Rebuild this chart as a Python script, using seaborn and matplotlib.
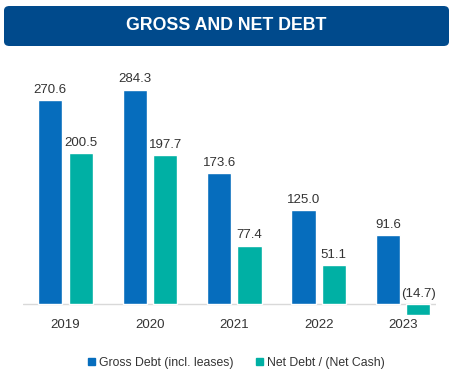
import numpy as np
import matplotlib
matplotlib.use("Agg")
import matplotlib.pyplot as plt
from matplotlib.patches import FancyBboxPatch
import seaborn as sns
import pandas as pd

years = ["2019", "2020", "2021", "2022", "2023"]
gross_debt = [270.6, 284.3, 173.6, 125.0, 91.6]
net_debt = [200.5, 197.7, 77.4, 51.1, -14.7]
series_names = ["Gross Debt (incl. leases)", "Net Debt / (Net Cash)"]
title = "GROSS AND NET DEBT"

sns.set_theme(style="white")
plt.rcParams['font.family'] = ['Liberation Sans', 'DejaVu Sans']

df = pd.DataFrame({
    "year": years * 2,
    "value": gross_debt + net_debt,
    "series": [series_names[0]] * len(years) + [series_names[1]] * len(years),
})
colors = ["#066DBD", "#00B0A4"]

W, H = 453, 376
fig = plt.figure(figsize=(W / 100, H / 100), dpi=100)

# title banner
fig.patches.append(FancyBboxPatch((4 / W, 1 - 46 / H), 445 / W, 40 / H,
                                  boxstyle="round,pad=0,rounding_size=0.012",
                                  transform=fig.transFigure, facecolor="#004A8C",
                                  edgecolor="none"))
fig.text(0.5, 1 - 26 / H, title, ha="center", va="center", color="white",
         fontsize=12.8, fontweight="bold")

ax = fig.add_axes([23.3 / W, 1 - 318 / H, 412.7 / W, 278 / H])
sns.barplot(data=df, x="year", y="value", hue="series", palette=colors,
            width=0.72, gap=0.2, saturation=1, ax=ax, legend=False)
ax.set_ylim(-18.6, 350)
ax.set_xlim(-0.5, 4.39)
ax.axhline(0, color="#d9d9d9", lw=1, zorder=0)
for s in ax.spines.values():
    s.set_visible(False)
ax.set_yticks([])
ax.set_xlabel("")
ax.set_ylabel("")
ax.tick_params(axis="x", length=0, pad=1, labelsize=9.5, labelcolor="#333333")

for cont in ax.containers:
    for bar in cont:
        v = bar.get_height()
        bar.set_clip_on(False)
        x = bar.get_x() + bar.get_width() / 2
        lab = f"{v:.1f}" if v >= 0 else f"({-v:.1f})"
        ax.annotate(lab, (x, max(v, 0)), xytext=(0, 3), textcoords="offset points",
                    ha="center", va="bottom", fontsize=9.5, color="#333333")

handles = [plt.Rectangle((0, 0), 1, 1, color=c) for c in colors]
fig.legend(handles, series_names, loc="center", bbox_to_anchor=(0.522, 1 - 363 / H),
           ncol=2, frameon=False, fontsize=8.8, handlelength=0.55, handleheight=0.55,
           handletextpad=0.3, columnspacing=1.9, labelcolor="#333333")

fig.savefig("out.png", dpi=100)
